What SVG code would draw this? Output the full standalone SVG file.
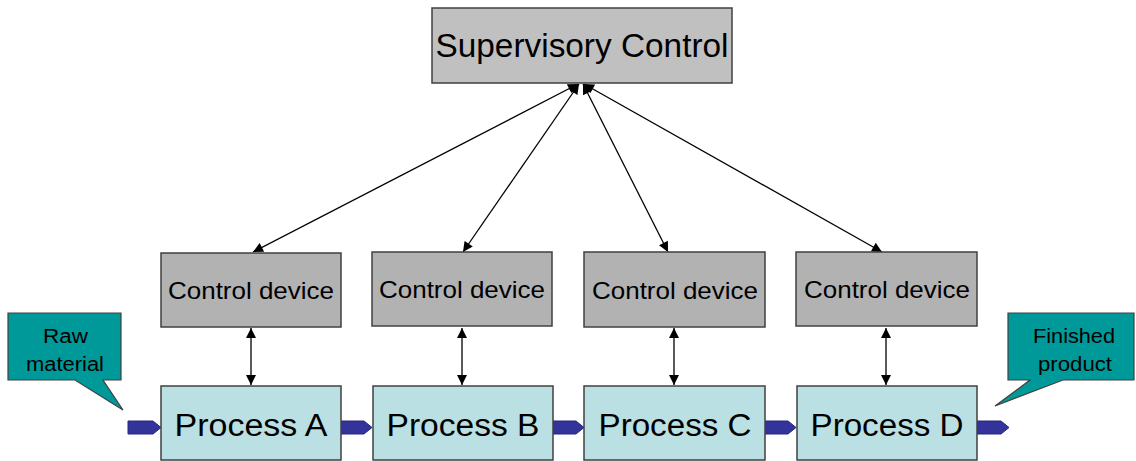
<svg xmlns="http://www.w3.org/2000/svg" width="1136" height="461" viewBox="0 0 1136 461">
<style>
text{font-family:"Liberation Sans",Arial,sans-serif;fill:#000;text-anchor:middle}
.box{stroke:#404040;stroke-width:1.5}
.sup{fill:#c0c0c0}
.dev{fill:#b2b2b2}
.proc{fill:#bae0e3}
.call{fill:#009999;stroke:#404040;stroke-width:1.2}
.flow{fill:#333399;stroke:#262680;stroke-width:1}
.link{stroke:#000;stroke-width:1.3;fill:none;marker-start:url(#ah);marker-end:url(#ah)}
</style>
<defs>
<marker id="ah" viewBox="0 0 10 10" refX="10" refY="5" markerWidth="11" markerHeight="10" markerUnits="userSpaceOnUse" orient="auto-start-reverse">
<path d="M0,0 L10,5 L0,10 Z" fill="#000"/>
</marker>
</defs>
<rect width="1136" height="461" fill="#fff"/>
<g id="connectors">
<line class="link" x1="578" y1="84" x2="253" y2="252"/>
<line class="link" x1="579" y1="84" x2="463" y2="252"/>
<line class="link" x1="583" y1="84" x2="668" y2="252"/>
<line class="link" x1="584" y1="84" x2="882" y2="252"/>
<line class="link" x1="251" y1="328" x2="251" y2="385"/>
<line class="link" x1="462" y1="328" x2="462" y2="385"/>
<line class="link" x1="674" y1="328" x2="674" y2="385"/>
<line class="link" x1="886" y1="328" x2="886" y2="385"/>
<polygon class="flow" points="128,421 153,421 161,427.5 153,434 128,434"/>
<polygon class="flow" points="340,421 364,421 372,427.5 364,434 340,434"/>
<polygon class="flow" points="552,421 576,421 584,427.5 576,434 552,434"/>
<polygon class="flow" points="764,421 788,421 796,427.5 788,434 764,434"/>
<polygon class="flow" points="977,421 1001,421 1009,427.5 1001,434 977,434"/>
</g>
<g id="supervisory">
<rect class="box sup" x="432" y="8" width="300" height="75"/>
<text x="582" y="57" font-size="33" textLength="293" lengthAdjust="spacingAndGlyphs">Supervisory Control</text>
</g>
<g id="device-1">
<rect class="box dev" x="161" y="253" width="180" height="74"/>
<text x="251" y="298.5" font-size="24" textLength="166" lengthAdjust="spacingAndGlyphs">Control device</text>
</g>
<g id="device-2">
<rect class="box dev" x="372" y="252" width="180" height="74"/>
<text x="462" y="297.5" font-size="24" textLength="166" lengthAdjust="spacingAndGlyphs">Control device</text>
</g>
<g id="device-3">
<rect class="box dev" x="584" y="252" width="181" height="75"/>
<text x="675" y="298.5" font-size="24" textLength="166" lengthAdjust="spacingAndGlyphs">Control device</text>
</g>
<g id="device-4">
<rect class="box dev" x="796" y="252" width="181" height="74"/>
<text x="887" y="297.5" font-size="24" textLength="166" lengthAdjust="spacingAndGlyphs">Control device</text>
</g>
<g id="process-a">
<rect class="box proc" x="161" y="386" width="180" height="74"/>
<text x="251" y="435.5" font-size="31" textLength="153" lengthAdjust="spacingAndGlyphs">Process A</text>
</g>
<g id="process-b">
<rect class="box proc" x="373" y="386" width="180" height="74"/>
<text x="463" y="435.5" font-size="31" textLength="153" lengthAdjust="spacingAndGlyphs">Process B</text>
</g>
<g id="process-c">
<rect class="box proc" x="584" y="386" width="181" height="74"/>
<text x="675" y="435.5" font-size="31" textLength="153" lengthAdjust="spacingAndGlyphs">Process C</text>
</g>
<g id="process-d">
<rect class="box proc" x="797" y="386" width="180" height="74"/>
<text x="887" y="435.5" font-size="31" textLength="153" lengthAdjust="spacingAndGlyphs">Process D</text>
</g>
<g id="raw-material">
<path class="call" d="M8,313 H121 V380 H103 L123,410 L75,380 H8 Z"/>
<text x="65.5" y="343" font-size="20" textLength="45" lengthAdjust="spacingAndGlyphs">Raw</text>
<text x="65" y="370.5" font-size="20" textLength="78" lengthAdjust="spacingAndGlyphs">material</text>
</g>
<g id="finished-product">
<path class="call" d="M1008,313 H1134 V380 H1063 L995,406 L1030,380 H1008 Z"/>
<text x="1074" y="343" font-size="20" textLength="82" lengthAdjust="spacingAndGlyphs">Finished</text>
<text x="1075" y="370.5" font-size="20" textLength="74" lengthAdjust="spacingAndGlyphs">product</text>
</g>
</svg>
